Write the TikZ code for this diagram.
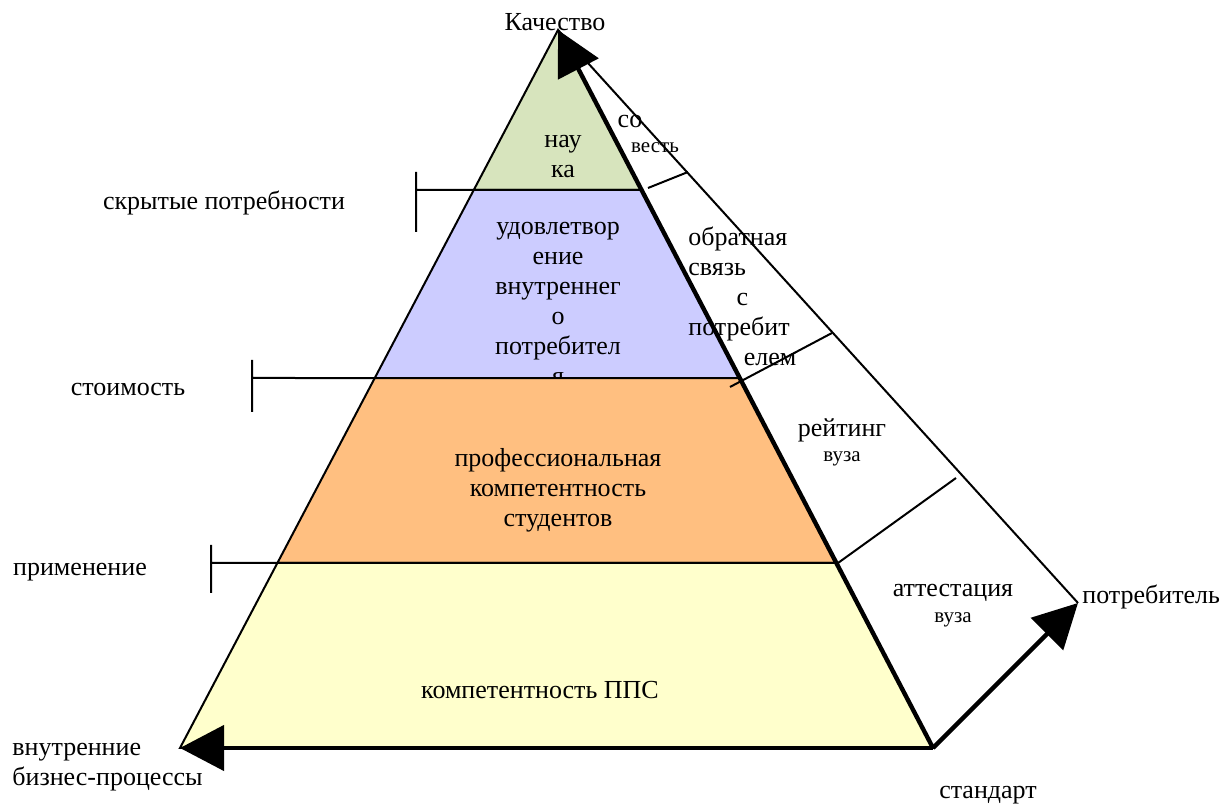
\documentclass[tikz,border=0pt]{standalone}
\usepackage{fontspec}
\setmainfont{Liberation Serif}
\usetikzlibrary{positioning,calc,arrows.meta}
\definecolor{nauka}{HTML}{D7E4BD}
\definecolor{vnutr}{HTML}{CCCCFF}
\definecolor{prof}{HTML}{FFBF80}
\definecolor{pps}{HTML}{FFFFCC}

\begin{document}
\begin{tikzpicture}[x=0.5pt,y=-0.5pt,
  big/.style={font=\fontsize{13}{15}\selectfont, inner sep=0pt},
  small/.style={font=\fontsize{10.5}{12}\selectfont, inner sep=0pt},
  edge/.style={line width=1pt},
  heavy/.style={line width=2.2pt},
  tip/.style={-{Triangle[length=22pt,width=22.5pt]}}]
\useasboundingbox (0,0) rectangle (1223,807);
% corners
\coordinate (apex) at (558,30); \coordinate (bl) at (180,748); \coordinate (br) at (933,748); \coordinate (cons) at (1078,603);
\coordinate (l1) at ($(apex)!0.2228!(bl)$); \coordinate (r1) at ($(apex)!0.2228!(br)$);
\coordinate (l2) at ($(apex)!0.4847!(bl)$); \coordinate (r2) at ($(apex)!0.4847!(br)$);
\coordinate (l3) at ($(apex)!0.7423!(bl)$); \coordinate (r3) at ($(apex)!0.7423!(br)$);
% layers
\filldraw[fill=nauka, edge] (apex) -- (r1) -- (l1) -- cycle;
\node[big, align=center] (nauka) at (563,157) {нау\\ка};
\filldraw[fill=vnutr, edge] (l1) -- (r1) -- (r2) -- (l2) -- cycle;
\node[big, align=center] (vnutr) at (558,303) {удовлетвор\\ение\\внутреннег\\о\\потребител\\я};
\filldraw[fill=prof, edge] (l2) -- (r2) -- (r3) -- (l3) -- cycle;
\node[big, align=center] (prof) at (558,490) {профессиональная\\компетентность\\студентов};
\filldraw[fill=pps, edge] (l3) -- (r3) -- (br) -- (bl) -- cycle;
\node[big] (pps) at (540,690) {компетентность ППС};
% axes
\draw[edge] (apex) -- (cons);
\draw[heavy, tip] (br) -- (apex);
\draw[heavy, tip] (br) -- (bl);
\draw[heavy, tip] (br) -- (cons);
% ticks on the right face
\coordinate (t1a) at (648,188); \coordinate (t1b) at (688,172);
\coordinate (t2a) at (730,387); \coordinate (t2b) at (832,333);
\coordinate (t3a) at (838,563); \coordinate (t3b) at (956,478);
\draw[edge] (t1a) -- (t1b); \draw[edge] (t2a) -- (t2b); \draw[edge] (t3a) -- (t3b);
% brackets on the left
\coordinate (k1) at (416,190); \coordinate (k2) at (252,378); \coordinate (k3) at (211,563);
\draw[edge] ($(k1)+(0,-18)$) -- ($(k1)+(0,42)$) (k1) -- (l1);
\draw[edge] ($(k2)+(0,-18)$) -- ($(k2)+(0,34)$) (k2) -- (l2);
\draw[edge] ($(k3)+(0,-18)$) -- ($(k3)+(0,30)$) (k3) -- (l3);
% labels
\node[big] (kach) at (555,22) {Качество};
\node[big] (so) at (630,122) {со};
\node[small] (vest) at (655,148) {весть};
\node[big, text width=54pt, align=left, anchor=west] (obr) at (688,296) {обратная\\связь\\\hfill с\hfill\null\\потребит\\\hfill елем};
\node[big] (reit) at (842,430) {рейтинг};
\node[small, below=4.5pt of reit] (reitv) {вуза};
\node[big] (att) at (953,593) {аттестация};
\node[small, below=5pt of att] (attv) {вуза};
\node[big, anchor=west] (potr) at (1082,597) {потребитель};
\node[big] (stand) at (988,795) {стандарт};
\node[big] (skr) at (224,203) {скрытые потребности};
\node[big] (stoim) at (128,390) {стоимость};
\node[big] (prim) at (80,572) {применение};
\node[big, align=left, anchor=west] (vnbp) at (12,767) {внутренние\\бизнес-процессы};
\end{tikzpicture}
\end{document}
